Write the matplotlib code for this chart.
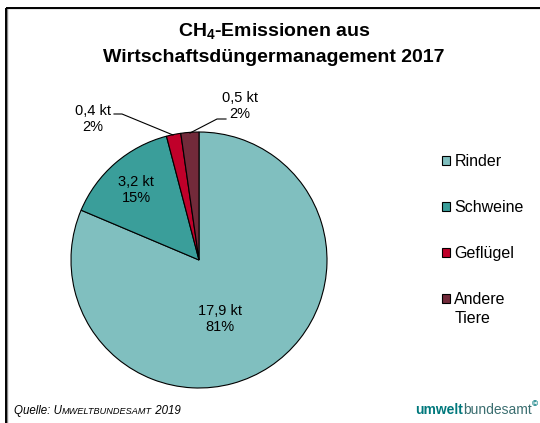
import numpy as np
import matplotlib
matplotlib.use("Agg")
import matplotlib.pyplot as plt
from matplotlib.patches import Rectangle

plt.rcParams['font.family'] = ['Liberation Sans', 'DejaVu Sans']

# Daten
tiere = ["Rinder", "Schweine", "Geflügel", "Andere"]
werte = [17.9, 3.2, 0.4, 0.5]  # kt CH4
farben = ["#80BFBF", "#3A9E9A", "#C0002A", "#722A3A"]

W, H = 540, 423
fig = plt.figure(figsize=(W / 100, H / 100), dpi=100)
renderer = fig.canvas.get_renderer()

# Overlay fuer Texte in Pixelkoordinaten (liegt ueber dem Kreis)
ov = fig.add_axes([0, 0, 1, 1])
ov.set_xlim(0, W)
ov.set_ylim(H, 0)
ov.axis("off")
ov.set_zorder(5)
ov.patch.set_visible(False)
ov.add_patch(Rectangle((6.5, 8.5), 600, 500, fill=False, ec="#888888", lw=1.0))
ov.add_patch(Rectangle((6, 8), 600, 500, fill=False, ec="black", lw=1.4))

# Pie
cx, cy, r = 199, 260, 128
ax = fig.add_axes([(cx - r) / W, (H - cy - r) / H, 2 * r / W, 2 * r / H])
wedges, _ = ax.pie(werte, colors=farben, startangle=90, counterclock=False,
                   wedgeprops=dict(edgecolor="black", linewidth=0.8))
ax.set_xlim(-1, 1)
ax.set_ylim(-1, 1)
ax.set_aspect("auto")

total = sum(werte)
def lab(i):
    return f"{werte[i]:.1f}".replace(".", ",") + " kt\n" + f"{round(100 * werte[i] / total):.0f}%"

# Beschriftungen (Pixelpositionen der Textmitte)
ov.text(220, 319, lab(0), ha="center", va="center", fontsize=10.5, linespacing=1.25)
ov.text(136, 190, lab(1), ha="center", va="center", fontsize=10.5, linespacing=1.25)
ov.text(93, 119, lab(2), ha="center", va="center", fontsize=10.5, linespacing=1.25)
ov.plot([114, 122, 173], [114, 114, 135], color="black", lw=0.8)
ov.text(240, 106, lab(3), ha="center", va="center", fontsize=10.5, linespacing=1.25)
ov.plot([226, 217, 190], [119, 119, 133], color="black", lw=0.8)

# Titel
ov.text(274, 32, r"CH$_\mathregular{4}$-Emissionen aus", ha="center", va="center",
        fontsize=14, fontweight="bold")
ov.text(274, 58, "Wirtschaftsdüngermanagement 2017", ha="center", va="center",
        fontsize=14, fontweight="bold")

# Legende
leg = fig.legend(wedges, tiere, loc="upper left", bbox_to_anchor=(436 / W, 1 - 148 / H),
                 frameon=False, fontsize=11.5, handlelength=0.5, handleheight=0.5,
                 handletextpad=0.25, labelspacing=1.93, borderaxespad=0)
fig.canvas.draw()
bb = leg.get_texts()[-1].get_window_extent(renderer)
fig.text(bb.x0 / W, (bb.y0 - 19) / H, "Tiere", ha="left", va="bottom", fontsize=11.5)

# Texte nacheinander setzen
def kette(x, y, teile):
    for s, kw in teile:
        t = ov.text(x, y, s, ha="left", va="baseline", **kw)
        bb = t.get_window_extent(renderer)
        x += bb.width
    return x

kette(14, 414, [("Quelle: U", dict(fontsize=8.3, style="italic")),
                ("MWELTBUNDESAMT", dict(fontsize=6.6, style="italic")),
                (" 2019", dict(fontsize=8.3, style="italic"))])

# Logo
xe = kette(415, 414, [("umwelt", dict(fontsize=10, fontweight="bold", color="#00787C")),
                      ("bundesamt", dict(fontsize=10, color="#3B6E70"))])
ov.text(xe, 405, "©", ha="left", va="center", fontsize=6, color="#00787C",
        fontweight="bold")

fig.savefig("out.png", dpi=100)
